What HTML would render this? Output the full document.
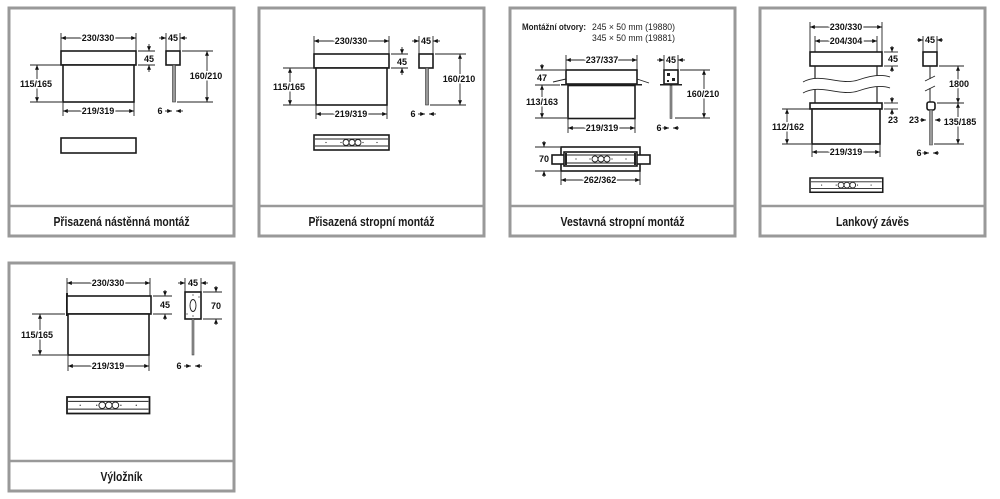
<!DOCTYPE html>
<html><head><meta charset="utf-8"><style>
html,body{margin:0;padding:0;background:#fff}
svg{display:block}
.d{font-family:"Liberation Sans",sans-serif;font-weight:bold;font-size:9px;fill:#111;paint-order:stroke;stroke:#fff;stroke-width:3px;text-anchor:middle}
.c{font-family:"Liberation Sans",sans-serif;font-weight:bold;font-size:13px;fill:#1a1a1a;text-anchor:middle}
.t{font-family:"Liberation Sans",sans-serif;font-size:9px;fill:#222}
.l{stroke:#222;stroke-width:0.9;fill:none}
.m{stroke:#222;stroke-width:0.9;fill:none;marker-start:url(#a);marker-end:url(#a)}
.e{stroke:#222;stroke-width:0.9;fill:none;marker-end:url(#a)}
.b{stroke:#1a1a1a;stroke-width:1.6;fill:#fff}
.f{fill:#fff;stroke:#999;stroke-width:3}
.s{stroke:#999;stroke-width:2.5}
</style></head><body>
<svg width="1000" height="499" viewBox="0 0 1000 499" xmlns="http://www.w3.org/2000/svg">
<defs>
<marker id="a" viewBox="0 0 6 5" refX="6" refY="2.5" markerWidth="5" markerHeight="4" markerUnits="userSpaceOnUse" orient="auto-start-reverse"><path d="M0,0L6,2.5L0,5z" fill="#111"/></marker>
<g id="strip"><rect x="0" y="0" width="75" height="15" class="b"/><line x1="1" y1="4" x2="74" y2="4" class="l"/><line x1="1" y1="11" x2="74" y2="11" class="l"/><circle cx="32" cy="7.5" r="3" class="l"/><circle cx="38" cy="7.5" r="3" class="l"/><circle cx="44" cy="7.5" r="3" class="l"/><circle cx="12" cy="7.5" r="0.6" fill="#222"/><circle cx="27" cy="7.5" r="0.6" fill="#222"/><circle cx="49" cy="7.5" r="0.6" fill="#222"/><circle cx="63" cy="7.5" r="0.6" fill="#222"/></g>
</defs>

<rect x="9" y="8" width="225" height="228" class="f"/><line x1="9" y1="206" x2="234" y2="206" class="s"/>
<rect x="259" y="8" width="225" height="228" class="f"/><line x1="259" y1="206" x2="484" y2="206" class="s"/>
<rect x="510" y="8" width="225" height="228" class="f"/><line x1="510" y1="206" x2="735" y2="206" class="s"/>
<rect x="760" y="8" width="225" height="228" class="f"/><line x1="760" y1="206" x2="985" y2="206" class="s"/>
<rect x="9" y="263" width="225" height="228" class="f"/><line x1="9" y1="461" x2="234" y2="461" class="s"/>

<text x="121.5" y="226" class="c" textLength="136" lengthAdjust="spacingAndGlyphs">Přisazená nástěnná montáž</text>
<text x="371.5" y="226" class="c" textLength="126" lengthAdjust="spacingAndGlyphs">Přisazená stropní montáž</text>
<text x="622.5" y="226" class="c" textLength="124" lengthAdjust="spacingAndGlyphs">Vestavná stropní montáž</text>
<text x="872.5" y="226" class="c" textLength="73" lengthAdjust="spacingAndGlyphs">Lankový závěs</text>
<text x="121.5" y="481" class="c" textLength="42" lengthAdjust="spacingAndGlyphs">Výložník</text>

<g id="p1">
<line x1="61" y1="33" x2="61" y2="51" class="l"/><line x1="136" y1="33" x2="136" y2="51" class="l"/>
<line x1="61" y1="38" x2="136" y2="38" class="m"/><text x="98" y="41" class="d">230/330</text>
<rect x="61" y="51" width="75" height="14" class="b"/>
<rect x="63" y="65" width="71" height="37" class="b" stroke-width="1"/>
<line x1="30" y1="65" x2="61" y2="65" class="l"/><line x1="30" y1="102" x2="62" y2="102" class="l"/>
<line x1="37" y1="65" x2="37" y2="102" class="m"/><text x="36" y="87" class="d">115/165</text>
<line x1="63" y1="102" x2="63" y2="116" class="l"/><line x1="134" y1="102" x2="134" y2="116" class="l"/>
<line x1="63" y1="111" x2="134" y2="111" class="m"/><text x="98" y="114" class="d">219/319</text>
<line x1="138" y1="51" x2="155" y2="51" class="l"/><line x1="138" y1="65" x2="155" y2="65" class="l"/>
<line x1="149" y1="44" x2="149" y2="51" class="e"/><line x1="149" y1="72" x2="149" y2="65" class="e"/><text x="149" y="62" class="d">45</text>
<line x1="166" y1="33" x2="166" y2="51" class="l"/><line x1="180" y1="33" x2="180" y2="51" class="l"/>
<line x1="159" y1="38" x2="166" y2="38" class="e"/><line x1="187" y1="38" x2="180" y2="38" class="e"/><text x="173" y="41" class="d">45</text>
<rect x="166" y="51" width="14" height="14" class="b" stroke-width="1"/>
<rect x="172.5" y="65" width="3" height="37" fill="#999" stroke="#333" stroke-width="0.6"/>
<line x1="182" y1="51" x2="213" y2="51" class="l"/><line x1="177" y1="102" x2="213" y2="102" class="l"/>
<line x1="207" y1="51" x2="207" y2="102" class="m"/><text x="206" y="79" class="d">160/210</text>
<line x1="165" y1="111" x2="172" y2="111" class="e"/><line x1="183" y1="111" x2="176" y2="111" class="e"/><text x="160" y="114" class="d">6</text>
</g>
<rect x="61" y="138" width="75" height="15" class="b"/>
<use href="#p1" transform="translate(253,3)"/>
<use href="#strip" x="314" y="135"/>

<text x="522" y="30" class="t" font-weight="bold" textLength="64" lengthAdjust="spacingAndGlyphs">Montážní otvory:</text>
<text x="592" y="30" class="t" textLength="83" lengthAdjust="spacingAndGlyphs">245 × 50 mm (19880)</text>
<text x="592" y="41" class="t" textLength="83" lengthAdjust="spacingAndGlyphs">345 × 50 mm (19881)</text>
<line x1="566" y1="55" x2="566" y2="70" class="l"/><line x1="637" y1="55" x2="637" y2="70" class="l"/>
<line x1="566" y1="60" x2="637" y2="60" class="m"/><text x="602" y="63" class="d">237/337</text>
<rect x="566" y="70" width="71" height="14" class="b"/>
<rect x="561" y="84" width="81" height="1.5" fill="#222"/>
<line x1="553" y1="82" x2="566" y2="79" class="l"/><line x1="637" y1="79" x2="649" y2="83" class="l"/>
<rect x="568" y="85.5" width="67" height="33" class="b" stroke-width="1"/>
<line x1="535" y1="70" x2="565" y2="70" class="l"/><line x1="535" y1="85" x2="560" y2="85" class="l"/><line x1="535" y1="118" x2="567" y2="118" class="l"/>
<line x1="542" y1="64" x2="542" y2="70" class="e"/><text x="542" y="81" class="d">47</text>
<line x1="542" y1="85" x2="542" y2="118" class="m"/><text x="542" y="105" class="d">113/163</text>
<line x1="568" y1="118" x2="568" y2="133" class="l"/><line x1="635" y1="118" x2="635" y2="133" class="l"/>
<line x1="568" y1="128" x2="635" y2="128" class="m"/><text x="602" y="131" class="d">219/319</text>
<line x1="664" y1="55" x2="664" y2="70" class="l"/><line x1="678" y1="55" x2="678" y2="70" class="l"/>
<line x1="657" y1="60" x2="664" y2="60" class="e"/><line x1="685" y1="60" x2="678" y2="60" class="e"/><text x="671" y="63" class="d">45</text>
<rect x="664" y="70" width="14" height="14" class="b" stroke-width="1"/>
<rect x="667" y="73" width="3" height="3" fill="#222"/><rect x="672" y="78" width="3" height="3" fill="#222"/><rect x="667" y="80" width="2" height="2" fill="#222"/>
<rect x="660" y="84" width="22" height="1.5" fill="#222"/>
<rect x="670" y="85.5" width="2" height="33" fill="#999" stroke="#333" stroke-width="0.5"/>
<line x1="680" y1="70" x2="710" y2="70" class="l"/><line x1="675" y1="118" x2="710" y2="118" class="l"/>
<line x1="704" y1="70" x2="704" y2="118" class="m"/><text x="703" y="97" class="d">160/210</text>
<line x1="662" y1="128" x2="669" y2="128" class="e"/><line x1="679" y1="128" x2="673" y2="128" class="e"/><text x="659" y="131" class="d">6</text>
<rect x="561" y="147" width="79" height="24" class="b" stroke-width="1"/>
<rect x="552" y="155" width="98" height="9" class="b" stroke-width="1"/>
<rect x="564" y="152" width="73" height="14" class="b" stroke-width="1"/>
<line x1="567" y1="155" x2="634" y2="155" class="l"/><line x1="567" y1="163" x2="634" y2="163" class="l"/>
<rect x="565" y="153" width="2" height="12" fill="#222"/><rect x="634" y="153" width="2" height="12" fill="#222"/>
<circle cx="595" cy="159" r="3" class="l"/><circle cx="601" cy="159" r="3" class="l"/><circle cx="607" cy="159" r="3" class="l"/>
<circle cx="576" cy="159" r="0.6" fill="#222"/><circle cx="590" cy="159" r="0.6" fill="#222"/><circle cx="612" cy="159" r="0.6" fill="#222"/><circle cx="626" cy="159" r="0.6" fill="#222"/>
<line x1="535" y1="147" x2="560" y2="147" class="l"/><line x1="535" y1="171" x2="560" y2="171" class="l"/>
<line x1="544" y1="141" x2="544" y2="147" class="e"/><line x1="544" y1="177" x2="544" y2="171" class="e"/><text x="544" y="162" class="d">70</text>
<line x1="561" y1="171" x2="561" y2="185" class="l"/><line x1="640" y1="171" x2="640" y2="185" class="l"/>
<line x1="561" y1="180" x2="640" y2="180" class="m"/><text x="600" y="183" class="d">262/362</text>

<line x1="810" y1="22" x2="810" y2="52" class="l"/><line x1="882" y1="22" x2="882" y2="52" class="l"/>
<line x1="810" y1="27" x2="882" y2="27" class="m"/><text x="846" y="30" class="d">230/330</text>
<line x1="815" y1="36" x2="815" y2="52" class="l"/><line x1="877" y1="36" x2="877" y2="52" class="l"/>
<line x1="815" y1="41" x2="877" y2="41" class="m"/><text x="846" y="44" class="d">204/304</text>
<rect x="810" y="52" width="72" height="14" class="b"/>
<line x1="815" y1="66" x2="815" y2="103" stroke="#222" stroke-width="1.2"/><line x1="877" y1="66" x2="877" y2="103" stroke="#222" stroke-width="1.2"/>
<path d="M803,82 C820,72 840,86 858,80 C872,75 882,74 890,77 L890,88 C880,85 870,86 858,91 C840,97 820,83 803,93 Z" fill="#fff"/>
<path d="M803,82 C820,72 840,86 858,80 C872,75 882,74 890,77" class="l"/>
<path d="M803,93 C820,83 840,97 858,91 C872,86 882,85 890,88" class="l"/>
<rect x="810" y="103" width="72" height="6" class="b" stroke-width="1.1"/>
<rect x="812" y="109" width="68" height="35" class="b" stroke-width="1"/>
<line x1="884" y1="52" x2="898" y2="52" class="l"/><line x1="884" y1="66" x2="898" y2="66" class="l"/>
<line x1="892" y1="46" x2="892" y2="52" class="e"/><line x1="892" y1="72" x2="892" y2="66" class="e"/><text x="893" y="62" class="d">45</text>
<line x1="884" y1="103" x2="898" y2="103" class="l"/><line x1="884" y1="109" x2="898" y2="109" class="l"/>
<line x1="892" y1="97" x2="892" y2="103" class="e"/><line x1="892" y1="115" x2="892" y2="109" class="e"/><text x="893" y="123" class="d">23</text>
<line x1="782" y1="109" x2="811" y2="109" class="l"/><line x1="782" y1="144" x2="811" y2="144" class="l"/>
<line x1="787" y1="109" x2="787" y2="144" class="m"/><text x="788" y="130" class="d">112/162</text>
<line x1="812" y1="144" x2="812" y2="157" class="l"/><line x1="880" y1="144" x2="880" y2="157" class="l"/>
<line x1="812" y1="152" x2="880" y2="152" class="m"/><text x="846" y="155" class="d">219/319</text>
<line x1="923" y1="36" x2="923" y2="52" class="l"/><line x1="937" y1="36" x2="937" y2="52" class="l"/>
<line x1="917" y1="40" x2="923" y2="40" class="e"/><line x1="943" y1="40" x2="937" y2="40" class="e"/><text x="930" y="43" class="d">45</text>
<rect x="923" y="52" width="14" height="14" class="b" stroke-width="1"/>
<line x1="930" y1="66" x2="930" y2="79" stroke="#222" stroke-width="1"/><line x1="930" y1="88" x2="930" y2="102" stroke="#222" stroke-width="1"/>
<line x1="925" y1="81" x2="935" y2="76" class="l"/><line x1="925" y1="91" x2="935" y2="86" class="l"/>
<rect x="927" y="102" width="8" height="8" rx="2" class="b" stroke-width="1"/>
<rect x="929.5" y="110" width="3" height="35" fill="#999" stroke="#333" stroke-width="0.5"/>
<line x1="939" y1="66" x2="964" y2="66" class="l"/><line x1="937" y1="103" x2="964" y2="103" class="l"/><line x1="934" y1="144" x2="964" y2="144" class="l"/>
<line x1="958" y1="66" x2="958" y2="103" class="m"/><text x="959" y="87" class="d">1800</text>
<line x1="958" y1="103" x2="958" y2="144" class="m"/><text x="960" y="125" class="d">135/185</text>
<line x1="919" y1="120" x2="926" y2="120" class="e"/><line x1="941" y1="120" x2="935" y2="120" class="e"/><text x="914" y="123" class="d">23</text>
<line x1="922" y1="153" x2="929" y2="153" class="e"/><line x1="939" y1="153" x2="933" y2="153" class="e"/><text x="919" y="156" class="d">6</text>
<use href="#strip" transform="translate(810,178) scale(0.97,0.95)"/>

<line x1="67" y1="278" x2="67" y2="293" class="l"/><line x1="150" y1="278" x2="150" y2="296" class="l"/>
<line x1="67" y1="283" x2="150" y2="283" class="m"/><text x="108" y="286" class="d">230/330</text>
<rect x="66" y="293" width="2" height="23" fill="#222"/>
<rect x="67" y="296" width="84" height="18" class="b"/>
<rect x="68" y="314" width="81" height="41" class="b" stroke-width="1"/>
<line x1="32" y1="314" x2="65" y2="314" class="l"/><line x1="32" y1="355" x2="67" y2="355" class="l"/>
<line x1="40" y1="314" x2="40" y2="355" class="m"/><text x="37" y="338" class="d">115/165</text>
<line x1="68" y1="355" x2="68" y2="371" class="l"/><line x1="149" y1="355" x2="149" y2="371" class="l"/>
<line x1="68" y1="366" x2="149" y2="366" class="m"/><text x="108" y="369" class="d">219/319</text>
<line x1="153" y1="296" x2="172" y2="296" class="l"/><line x1="153" y1="314" x2="172" y2="314" class="l"/>
<line x1="165" y1="290" x2="165" y2="296" class="e"/><line x1="165" y1="320" x2="165" y2="314" class="e"/><text x="165" y="308" class="d">45</text>
<line x1="185" y1="278" x2="185" y2="292" class="l"/><line x1="201" y1="278" x2="201" y2="292" class="l"/>
<line x1="178" y1="283" x2="185" y2="283" class="e"/><line x1="208" y1="283" x2="201" y2="283" class="e"/><text x="193" y="286" class="d">45</text>
<rect x="185" y="292" width="16" height="27" class="b" stroke-width="1"/>
<ellipse cx="193" cy="305.5" rx="3" ry="6" class="l"/>
<circle cx="193" cy="295" r="0.6" fill="#222"/><circle cx="193" cy="316" r="0.6" fill="#222"/><circle cx="187" cy="314" r="0.6" fill="#222"/><circle cx="199" cy="297" r="0.6" fill="#222"/>
<rect x="192" y="319" width="2" height="36" fill="#999" stroke="#333" stroke-width="0.5"/>
<line x1="203" y1="292" x2="222" y2="292" class="l"/><line x1="203" y1="319" x2="222" y2="319" class="l"/>
<line x1="216" y1="286" x2="216" y2="292" class="e"/><line x1="216" y1="325" x2="216" y2="319" class="e"/><text x="216" y="309" class="d">70</text>
<line x1="184" y1="366" x2="191" y2="366" class="e"/><line x1="202" y1="366" x2="195" y2="366" class="e"/><text x="179" y="369" class="d">6</text>
<use href="#strip" transform="translate(67,397) scale(1.1,1.1)"/>
</svg>
</body></html>
